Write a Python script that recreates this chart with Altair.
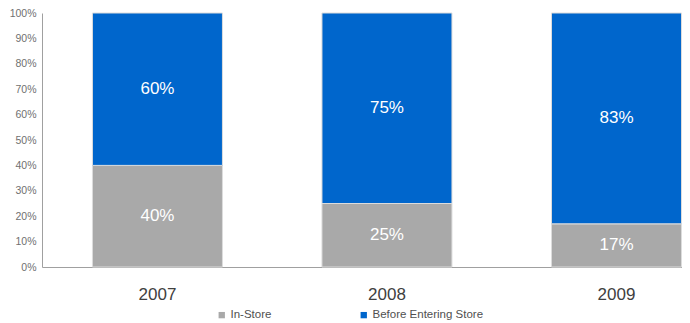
import altair as alt
import pandas as pd

years = ["2007", "2008", "2009"]
in_store = [40, 25, 17]
before_entering = [60, 75, 83]
series = ["In-Store", "Before Entering Store"]
colors = ["#a9a9a9", "#0066cc"]
y_ticks = [0, 0.1, 0.2, 0.3, 0.4, 0.5, 0.6, 0.7, 0.8, 0.9, 1.0]

rows = []
for i, y in enumerate(years):
    rows.append({"year": y, "series": series[0], "value": in_store[i] / 100, "ord": 0})
    rows.append({"year": y, "series": series[1], "value": before_entering[i] / 100, "ord": 1})
df = pd.DataFrame(rows)

FONT = "Liberation Sans"

xscale = alt.Scale(paddingInner=0.4336, paddingOuter=0.111, align=0.99, round=False)
yscale = alt.Scale(domain=[0, 1], nice=False)
xaxis = alt.Axis(labelAngle=0, labelFontSize=17, labelColor="#404040",
                 labelPadding=19, ticks=False, domainColor="#a0a0a0",
                 labelFont=FONT, title=None)
yaxis = alt.Axis(format=".0%", values=y_ticks,
                 labelFontSize=10.5, labelColor="#707070", ticks=False,
                 grid=False, domainColor="#a0a0a0", labelPadding=6,
                 labelOverlap=False, labelFont=FONT, title=None,
                 minExtent=34, maxExtent=34)

bars = alt.Chart(df).mark_bar(stroke="#dcdcdc", strokeWidth=1).encode(
    x=alt.X("year:N", title=None, scale=xscale, axis=xaxis),
    y=alt.Y("value:Q", stack="zero", title=None, scale=yscale, axis=yaxis),
    color=alt.Color("series:N", scale=alt.Scale(domain=series, range=colors),
                    legend=alt.Legend(title=None, orient="none", direction="horizontal",
                                      legendX=174, legendY=296, symbolType="square",
                                      symbolSize=40, symbolStrokeWidth=0,
                                      labelFontSize=11.5, labelColor="#505050",
                                      labelFont=FONT, columnPadding=86,
                                      labelOffset=3)),
    order=alt.Order("ord:Q"),
)

labels = alt.Chart(df).mark_text(color="white", fontSize=17, font=FONT).encode(
    x=alt.X("year:N", title=None, scale=xscale, axis=xaxis),
    y=alt.Y("mid:Q", title=None, scale=yscale, axis=yaxis),
    text=alt.Text("value:Q", format=".0%"),
).transform_window(
    cum="sum(value)", sort=[alt.SortField("ord")], groupby=["year"]
).transform_calculate(mid="datum.cum - datum.value / 2")

chart = alt.layer(bars, labels).properties(
    width=640, height=254,
    autosize=alt.AutoSizeParams(type="none"),
    padding={"left": 34, "top": 5, "right": 0, "bottom": 56},
).configure_view(stroke=None)

chart.save("out.html", embed_options={"renderer": "svg", "actions": False})
